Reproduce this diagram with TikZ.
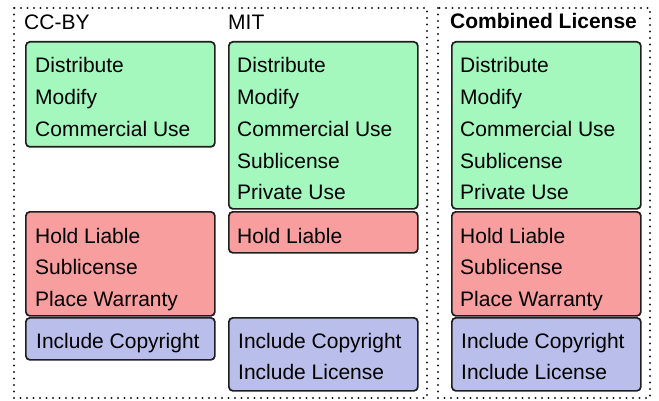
\documentclass[tikz,border=0pt]{standalone}
\usepackage{fontspec}
\setmainfont{Liberation Sans}
\definecolor{permgreen}{RGB}{164,248,190}
\definecolor{limred}{RGB}{248,158,158}
\definecolor{condblue}{RGB}{185,190,234}
\definecolor{edge}{RGB}{30,30,30}
\begin{document}
\begin{tikzpicture}[x=1pt,y=-1pt,
  box/.style={draw=edge, line width=1.7pt, rounded corners=4pt, inner sep=0pt,
    anchor=north west, minimum width=#1},
  box/.default=189pt,
  permbox/.style={box, fill=permgreen},
  limbox/.style={box, fill=limred},
  condbox/.style={box, fill=condblue},
  item/.style={anchor=base west, inner sep=0pt, font=\fontsize{21}{25}\selectfont},
  heading/.style={anchor=base west, inner sep=0pt, font=\fontsize{21}{25}\selectfont},
  frame/.style={draw=edge, line width=2.3pt, line cap=round, dash pattern=on 0pt off 6.5pt}
]
\useasboundingbox (0,0) rectangle (659,401);

% dotted frames
\draw[frame] (14,8) rectangle (427,398);
\draw[frame] (438,8) rectangle (650,398);

% headings
\node[heading] (h-ccby) at (24,30) {CC-BY};
\node[heading] (h-mit) at (228,30) {MIT};
\node[heading, font=\fontsize{21}{25}\selectfont\bfseries] (h-comb) at (450,29) {Combined License};

% CC-BY column
\node[permbox, minimum height=105pt] (ccby-perm) at (25,41) {};
\node[limbox, minimum height=104pt] (ccby-lim) at (25,211) {};
\node[condbox, minimum height=42pt] (ccby-cond) at (25,317) {};
\foreach \t [count=\i] in {Distribute,Modify,Commercial Use}
  \node[item] (ccby-p\i) at (35,{73+31.7*(\i-1)}) {\t};
\foreach \t [count=\i] in {Hold Liable,Sublicense,Place Warranty}
  \node[item] (ccby-l\i) at (35,{243+31.7*(\i-1)}) {\t};
\node[item] (ccby-c1) at (36,348) {Include Copyright};

% MIT column
\node[permbox, minimum height=167pt] (mit-perm) at (228,41) {};
\node[limbox, minimum height=41pt] (mit-lim) at (228,211) {};
\node[condbox, minimum height=73pt] (mit-cond) at (228,317) {};
\foreach \t [count=\i] in {Distribute,Modify,Commercial Use,Sublicense,Private Use}
  \node[item] (mit-p\i) at (237,{73+31.7*(\i-1)}) {\t};
\node[item] (mit-l1) at (237,243) {Hold Liable};
\foreach \t [count=\i] in {Include Copyright,Include License}
  \node[item] (mit-c\i) at (238,{348+31*(\i-1)}) {\t};

% combined column
\node[permbox, minimum height=167pt] (comb-perm) at (451,41) {};
\node[limbox, minimum height=104pt] (comb-lim) at (451,211) {};
\node[condbox, minimum height=73pt] (comb-cond) at (451,317) {};
\foreach \t [count=\i] in {Distribute,Modify,Commercial Use,Sublicense,Private Use}
  \node[item] (comb-p\i) at (460,{73+31.7*(\i-1)}) {\t};
\foreach \t [count=\i] in {Hold Liable,Sublicense,Place Warranty}
  \node[item] (comb-l\i) at (460,{243+31.7*(\i-1)}) {\t};
\foreach \t [count=\i] in {Include Copyright,Include License}
  \node[item] (comb-c\i) at (461,{348+31*(\i-1)}) {\t};
\end{tikzpicture}
\end{document}
